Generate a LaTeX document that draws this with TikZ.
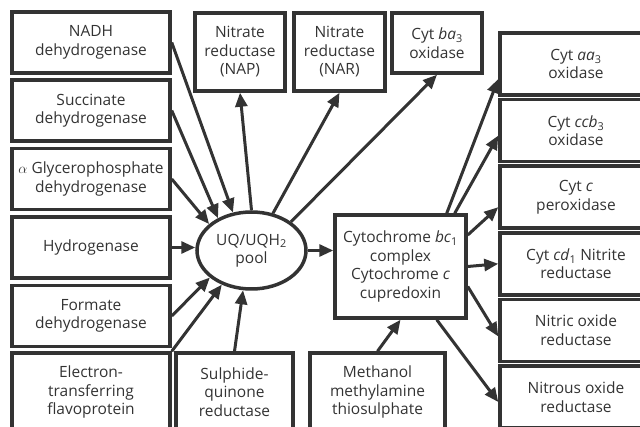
\documentclass[tikz,border=0pt]{standalone}
\usepackage{fontspec}
\setmainfont{Open Sans}
\usetikzlibrary{arrows.meta,shapes.geometric}
\definecolor{ink}{HTML}{333333}
\newcommand{\boxfont}{\fontsize{15.5}{18.5}\selectfont}

\begin{document}
\begin{tikzpicture}[x=1pt,y=-1pt,
    box/.style={draw=ink, line width=3.5pt, inner sep=0pt, align=center,
      text=ink, font=\boxfont},
    lbox/.style={box, minimum width=158pt, minimum height=61pt},
    rbox/.style={box, minimum width=152pt, minimum height=62pt},
    arr/.style={draw=ink, line width=3pt,
      -{Triangle[length=14pt,width=12pt]}}]
  \useasboundingbox (0,0) rectangle (640,427);
  \clip (0,0) rectangle (640,427);

  % left column
  \node (nadh) at (91,42.5)  [lbox] {NADH\\dehydrogenase};
  \node (succ) at (91,110.5) [lbox] {Succinate\\dehydrogenase};
  \node (glyc) at (91,179)   [lbox] {$\alpha$ Glycerophosphate\\dehydrogenase};
  \node (hyd)  at (91,247.5) [lbox] {Hydrogenase};
  \node (form) at (91,316)   [lbox] {Formate\\dehydrogenase};
  \node (etf)  at (91,392)   [box, minimum width=158pt, minimum height=78pt] {Electron-\\transferring\\flavoprotein};
  \node (sqr)  at (234.5,392) [box, minimum width=117pt, minimum height=78pt] {Sulphide-\\quinone\\reductase};
  \node (meth) at (377.5,392) [box, minimum width=135pt, minimum height=78pt] {Methanol\\methylamine\\thiosulphate};

  % top row
  \node (nap) at (240,52)   [box, minimum width=90pt, minimum height=78pt] {Nitrate\\reductase\\(NAP)};
  \node (nar) at (339.5,52) [box, minimum width=91pt, minimum height=78pt] {Nitrate\\reductase\\(NAR)};
  \node (ba3) at (437,43)   [box, minimum width=90pt, minimum height=60pt] {Cyt \textit{ba}\textsubscript{3}\\oxidase};

  % centre
  \node (pool) at (251.5,250.5) [box, ellipse, minimum width=109pt, minimum height=77pt] {UQ/UQH\textsubscript{2}\\pool};
  \node (bc) at (400.5,266.5) [box, minimum width=131pt, minimum height=103pt] {Cytochrome \textit{bc}\textsubscript{1}\\complex\\Cytochrome \textit{c}\\cupredoxin};

  % right column
  \node (aa3)  at (576,64)    [rbox] {Cyt \textit{aa}\textsubscript{3}\\oxidase};
  \node (ccb)  at (576,130.6) [rbox] {Cyt \textit{ccb}\textsubscript{3}\\oxidase};
  \node (cytc) at (576,197.2) [rbox] {Cyt \textit{c}\\peroxidase};
  \node (cd)   at (576,263.8) [rbox] {Cyt \textit{cd}\textsubscript{1} Nitrite\\reductase};
  \node (no)   at (576,330.4) [rbox] {Nitric oxide\\reductase};
  \node (n2o)  at (576,397)   [rbox] {Nitrous oxide\\reductase};

  % into the pool
  \draw[arr] (nadh.east) to (pool.116);
  \draw[arr] (succ.east) to (pool.136);
  \draw[arr] (glyc.east) to (pool.148);
  \draw[arr] (hyd.east) to (hyd.east -| pool.west);
  \draw[arr] (form.east) to (pool.213);
  \draw[arr] (etf.north east) to (pool.229);
  \draw[arr] (sqr.north) to (pool.258);

  % out of the pool
  \draw[arr] (pool.north) to (nap.south);
  \draw[arr] (pool.60) to (nar.south);
  \draw[arr] (pool.36) to (ba3.south);
  \draw[arr] (pool.east) to (pool.east -| bc.west);

  % out of bc1
  \draw[arr] ([xshift=-21pt]bc.north east) to ([yshift=-15pt]aa3.west);
  \draw[arr] ([xshift=-13pt]bc.north east) to ([yshift=-5pt]ccb.west);
  \draw[arr] ([yshift=31.5pt]bc.east) to ([yshift=-10pt]cytc.west);
  \draw[arr] (bc.east) to (cd.west);
  \draw[arr] ([yshift=-20pt]bc.east) to ([yshift=-6pt]no.west);
  \draw[arr] ([xshift=-31pt]bc.south east) to ([yshift=-5pt]n2o.west);
  \draw[arr] (meth.north) to (bc.south);
\end{tikzpicture}
\end{document}
